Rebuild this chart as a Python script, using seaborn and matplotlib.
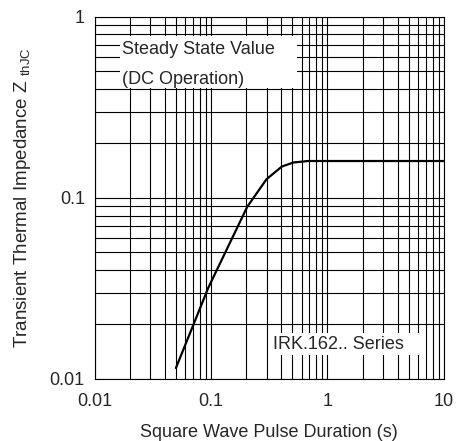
import numpy as np
import pandas as pd
import matplotlib
matplotlib.use('Agg')
import matplotlib.pyplot as plt
import matplotlib.ticker as mticker
from matplotlib.patches import Rectangle
import seaborn as sns

# curve (pulse duration s, Z thJC)
pulse_s = [0.05, 0.095, 0.205, 0.3, 0.405, 0.51, 0.68, 1.0, 3.0, 10.0]
zth = [0.0115, 0.032, 0.0895, 0.127, 0.149, 0.157, 0.16, 0.16, 0.16, 0.16]

x_ticks = [0.01, 0.1, 1, 10]
x_tick_labels = ['0.01', '0.1', '1', '10']
y_ticks = [0.01, 0.1, 1]
y_tick_labels = ['0.01', '0.1', '1']

df = pd.DataFrame({'t': pulse_s, 'z': zth})

sns.set_style('white')
plt.rcParams['font.family'] = ['Liberation Sans', 'DejaVu Sans']
plt.rcParams['mathtext.fontset'] = 'custom'
plt.rcParams['mathtext.rm'] = 'Liberation Sans'
plt.rcParams['mathtext.it'] = 'Liberation Sans'

fig = plt.figure(figsize=(4.61, 4.41), dpi=100)
ax = fig.add_axes([0.205, 0.1406, 0.758, 0.821])

sns.lineplot(data=df, x='t', y='z', color='black', linewidth=1.6, ax=ax)

ax.set_xscale('log')
ax.set_yscale('log')
ax.set_xlim(0.01, 10)
ax.set_ylim(0.01, 1)

ax.xaxis.set_major_locator(mticker.FixedLocator(x_ticks))
ax.xaxis.set_major_formatter(mticker.FixedFormatter(x_tick_labels))
ax.yaxis.set_major_locator(mticker.FixedLocator(y_ticks))
ax.yaxis.set_major_formatter(mticker.FixedFormatter(y_tick_labels))
ax.xaxis.set_minor_locator(mticker.LogLocator(base=10, subs=np.arange(2, 10)))
ax.yaxis.set_minor_locator(mticker.LogLocator(base=10, subs=np.arange(2, 10)))
ax.xaxis.set_minor_formatter(mticker.NullFormatter())
ax.yaxis.set_minor_formatter(mticker.NullFormatter())

ax.grid(True, which='both', color='black', linewidth=0.8)
ax.set_axisbelow(True)
for s in ax.spines.values():
    s.set_color('black')
    s.set_linewidth(0.8)

ax.tick_params(axis='both', which='both', length=0, labelsize=13)
ax.tick_params(axis='x', pad=10)
ax.tick_params(axis='y', pad=7)

ax.set_xlabel('Square Wave Pulse Duration (s)', fontsize=13, labelpad=10)
ax.set_ylabel('Transient Thermal Impedance Z $_{\\rm thJC}$', fontsize=13.5, labelpad=12)

# white label boxes
ax.add_patch(Rectangle((0.073, 0.804), 0.507, 0.144, transform=ax.transAxes,
                       facecolor='white', edgecolor='none', zorder=3))
ax.text(0.079, 0.911, 'Steady State Value', transform=ax.transAxes,
        fontsize=13, va='center', ha='left', zorder=4)
ax.text(0.079, 0.826, '(DC Operation)', transform=ax.transAxes,
        fontsize=13, va='center', ha='left', zorder=4)

ax.add_patch(Rectangle((0.507, 0.066), 0.426, 0.061, transform=ax.transAxes,
                       facecolor='white', edgecolor='none', zorder=3))
ax.text(0.512, 0.094, 'IRK.162.. Series', transform=ax.transAxes,
        fontsize=13, va='center', ha='left', zorder=4)

if ax.get_legend():
    ax.get_legend().remove()

fig.savefig('out.png', dpi=100)
